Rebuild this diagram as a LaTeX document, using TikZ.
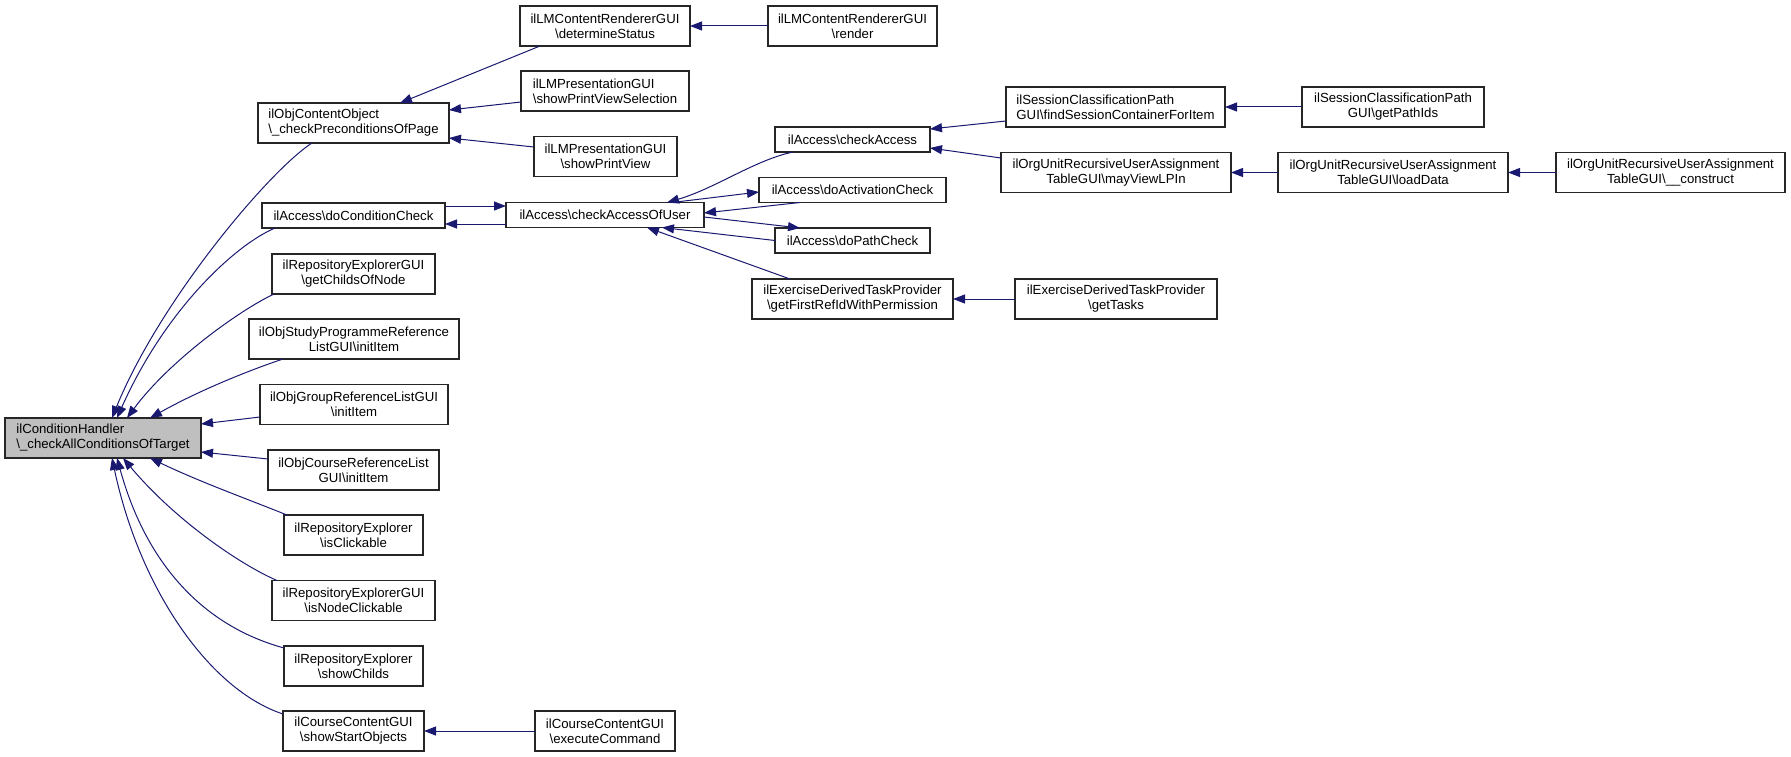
\documentclass[tikz,border=0pt]{standalone}
\usepackage{fontspec}
\setmainfont{Liberation Sans}
\usetikzlibrary{calc,arrows.meta}
\definecolor{edgeblue}{HTML}{191970}
\definecolor{rootgrey}{HTML}{BFBFBF}
\begin{document}
\begin{tikzpicture}[x=1pt,y=-1pt,
  box/.style={draw=black!85, line width=1.2pt, fill=white, inner sep=0pt, outer sep=0pt,
    font=\fontsize{13.2}{15}\selectfont, align=center, text=black},
  edge/.style={draw=edgeblue, line width=1pt, -{Triangle[length=12pt,width=9pt]}, fill=none}]
\useasboundingbox (0,0) rectangle (1791,757);
% column 0
\node[box, fill=rootgrey, align=left, minimum width=196pt, minimum height=40pt] (root) at (103,438) {ilConditionHandler\\\textbackslash\_checkAllConditionsOfTarget};
% column 1
\node[box, align=left, minimum width=191pt, minimum height=40pt] (coo) at (353.5,123) {ilObjContentObject\\\textbackslash\_checkPreconditionsOfPage};
\node[box, minimum width=183pt, minimum height=25pt] (dcc) at (353.5,215.5) {ilAccess\textbackslash doConditionCheck};
\node[box, minimum width=163pt, minimum height=40pt] (gcon) at (353.5,274) {ilRepositoryExplorerGUI\\\textbackslash getChildsOfNode};
\node[box, minimum width=210pt, minimum height=40pt] (osp) at (354,339) {ilObjStudyProgrammeReference\\ListGUI\textbackslash initItem};
\node[box, minimum width=188pt, minimum height=40pt] (ogr) at (354,404.5) {ilObjGroupReferenceListGUI\\\textbackslash initItem};
\node[box, minimum width=171pt, minimum height=40pt] (ocr) at (353.5,470) {ilObjCourseReferenceList\\GUI\textbackslash initItem};
\node[box, minimum width=139pt, minimum height=40pt] (rec) at (353.5,535) {ilRepositoryExplorer\\\textbackslash isClickable};
\node[box, minimum width=163pt, minimum height=40pt] (rnc) at (353.5,600.5) {ilRepositoryExplorerGUI\\\textbackslash isNodeClickable};
\node[box, minimum width=139pt, minimum height=40pt] (rsc) at (353.5,666) {ilRepositoryExplorer\\\textbackslash showChilds};
\node[box, minimum width=141pt, minimum height=40pt] (sso) at (353.5,731) {ilCourseContentGUI\\\textbackslash showStartObjects};
% column 2
\node[box, minimum width=170pt, minimum height=40pt] (dst) at (605,26) {ilLMContentRendererGUI\\\textbackslash determineStatus};
\node[box, align=left, minimum width=168pt, minimum height=40pt] (pvs) at (605,91) {ilLMPresentationGUI\\\textbackslash showPrintViewSelection};
\node[box, minimum width=143pt, minimum height=40pt] (pv) at (605.5,156.5) {ilLMPresentationGUI\\\textbackslash showPrintView};
\node[box, minimum width=198pt, minimum height=25pt] (cau) at (605,215) {ilAccess\textbackslash checkAccessOfUser};
\node[box, minimum width=140pt, minimum height=40pt] (ecmd) at (605,731) {ilCourseContentGUI\\\textbackslash executeCommand};
% column 3
\node[box, minimum width=169pt, minimum height=40pt] (rnd) at (852.5,26) {ilLMContentRendererGUI\\\textbackslash render};
\node[box, minimum width=155pt, minimum height=25pt] (ca) at (852.5,139.5) {ilAccess\textbackslash checkAccess};
\node[box, minimum width=187pt, minimum height=25pt] (dac) at (852.5,190) {ilAccess\textbackslash doActivationCheck};
\node[box, minimum width=155pt, minimum height=25pt] (dpc) at (852.5,240.5) {ilAccess\textbackslash doPathCheck};
\node[box, minimum width=201pt, minimum height=40pt] (gfr) at (852.5,299) {ilExerciseDerivedTaskProvider\\\textbackslash getFirstRefIdWithPermission};
% column 4
\node[box, align=left, minimum width=219pt, minimum height=40pt] (fsc) at (1115.5,107) {ilSessionClassificationPath\\GUI\textbackslash findSessionContainerForItem};
\node[box, minimum width=230pt, minimum height=40pt] (mvl) at (1116,172.5) {ilOrgUnitRecursiveUserAssignment\\TableGUI\textbackslash mayViewLPIn};
\node[box, minimum width=202pt, minimum height=40pt] (gt) at (1116,299) {ilExerciseDerivedTaskProvider\\\textbackslash getTasks};
% column 5
\node[box, minimum width=182pt, minimum height=40pt] (gpi) at (1393,107) {ilSessionClassificationPath\\GUI\textbackslash getPathIds};
\node[box, minimum width=230pt, minimum height=40pt] (ld) at (1393,172.5) {ilOrgUnitRecursiveUserAssignment\\TableGUI\textbackslash loadData};
% column 6
\node[box, minimum width=229pt, minimum height=40pt] (con) at (1670.5,172.5) {ilOrgUnitRecursiveUserAssignment\\TableGUI\textbackslash\_\_construct};

% edges into ilObjContentObject
\draw[edge] ($(dst.south west)+(20,0)$) -- ($(coo.north)+(46.5,0)$);
\draw[edge] ($(pvs.west)+(0,11)$) -- ($(coo.east)+(0,-13)$);
\draw[edge] ($(pv.west)+(0,-9.5)$) -- ($(coo.east)+(0,15)$);
\draw[edge] (rnd) -- (dst);
% doConditionCheck <-> checkAccessOfUser
\draw[edge] ($(dcc.east)+(0,-9.5)$) -- ($(cau.west)+(0,-9)$);
\draw[edge] ($(cau.west)+(0,9)$) -- ($(dcc.east)+(0,8.5)$);
% around checkAccessOfUser
\draw[edge] ($(ca.south)+(-59.5,0)$) .. controls +(-38,8) and +(48,-14) .. ($(cau.north)+(62,0)$);
\draw[edge] ($(cau.north)+(67,0)$) -- ($(dac.west)+(0,2)$);
\draw[edge] ($(dac.south)+(-52.5,0)$) -- ($(cau.east)+(0,-2)$);
\draw[edge] ($(cau.east)+(0,2)$) -- ($(dpc.north)+(-52.5,0)$);
\draw[edge] (dpc.west) -- ($(cau.south)+(57,0)$);
\draw[edge] ($(gfr.north)+(-62.5,0)$) -- ($(cau.south)+(42,0)$);
% right part
\draw[edge] ($(fsc.west)+(0,14)$) -- ($(ca.east)+(0,-10.5)$);
\draw[edge] ($(mvl.west)+(0,-14.5)$) -- ($(ca.east)+(0,8.5)$);
\draw[edge] (gpi) -- (fsc);
\draw[edge] (ld) -- (mvl);
\draw[edge] (con) -- (ld);
\draw[edge] (gt) -- (gfr);
\draw[edge] (ecmd) -- (sso);
% edges into the root
\draw[edge] ($(coo.south)+(-41.5,0)$) .. controls +(-42,27) and +(48,-118) .. ($(root.north)+(9,0)$);
\draw[edge] ($(dcc.south)+(-78.5,0)$) .. controls +(-40,17) and +(48,-108) .. ($(root.north)+(14,0)$);
\draw[edge] ($(gcon.south)+(-79.5,0)$) .. controls +(-34,16) and +(43,-58) .. ($(root.north)+(24,0)$);
\draw[edge] ($(osp.south)+(-71,0)$) .. controls +(-33,11) and +(50,-28) .. ($(root.north)+(47,0)$);
\draw[edge] ($(ogr.west)+(0,12.5)$) -- ($(root.east)+(0,-14)$);
\draw[edge] ($(ocr.west)+(0,-11)$) -- ($(root.east)+(0,14)$);
\draw[edge] ($(rec.north)+(-66.5,0)$) .. controls +(-37,-15) and +(50,24) .. ($(root.south)+(47,0)$);
\draw[edge] ($(rnc.north)+(-76.5,0)$) .. controls +(-37,-16) and +(52,62) .. ($(root.south)+(20,0)$);
\draw[edge] ($(rsc.north west)+(0,2)$) .. controls +(-84,-23) and +(28,102) .. ($(root.south)+(14,0)$);
\draw[edge] ($(sso.north west)+(0,3)$) .. controls +(-73,-24) and +(28,132) .. ($(root.south)+(9,0)$);
\end{tikzpicture}
\end{document}
